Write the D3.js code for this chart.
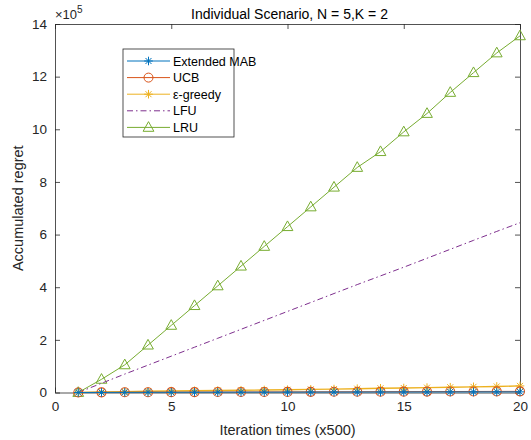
<!DOCTYPE html>
<html>
<head>
<meta charset="utf-8">
<script src="https://cdn.jsdelivr.net/npm/d3@7"></script>
<style>
  html, body { margin: 0; padding: 0; background: #fff; }
  svg { display: block; font-family: "Liberation Sans", Arial, Helvetica, sans-serif; }
</style>
</head>
<body>
<svg id="chart" width="531" height="440"></svg>
<script>
// ---- data (values in units of 1e5) ----
const iterations = [1,2,3,4,5,6,7,8,9,10,11,12,13,14,15,16,17,18,19,20];
const extendedMAB = [0,0.003,0.005,0.007,0.008,0.01,0.011,0.012,0.013,0.014,0.015,0.016,0.017,0.018,0.019,0.02,0.021,0.022,0.023,0.024];
const ucb = [0,0.005,0.008,0.011,0.013,0.015,0.017,0.019,0.021,0.023,0.025,0.027,0.029,0.031,0.033,0.035,0.037,0.039,0.041,0.043];
const epsGreedy = [0,0.02,0.03,0.045,0.055,0.065,0.075,0.085,0.095,0.105,0.12,0.13,0.145,0.16,0.17,0.185,0.2,0.215,0.23,0.25];
const lfu = [0,0.35,0.7,1.04,1.38,1.72,2.06,2.4,2.74,3.08,3.42,3.76,4.1,4.43,4.76,5.1,5.44,5.78,6.12,6.45];
const lru = [0,0.5,1.05,1.8,2.55,3.3,4.05,4.8,5.55,6.3,7.05,7.8,8.55,9.15,9.9,10.6,11.4,12.15,12.9,13.55];
const xTicks = [0,5,10,15,20];
const yTicks = [0,2,4,6,8,10,12,14];

const seriesNames = ["Extended MAB","UCB","\u03B5-greedy","LFU","LRU"];
const seriesColors = ["#0072BD","#D95319","#EDB120","#7E2F8E","#77AC30"];
const seriesMarkers = ["star","circle","star","none","triangle"];
const seriesDash = [null,null,null,"6,3,1.5,3",null];
const seriesValues = [extendedMAB, ucb, epsGreedy, lfu, lru];

const drawOrder = [4,3,2,1,0];

// ---- layout ----
const svg = d3.select("#chart");
const mLeft = 55, mRight = 520, mTop = 24, mBottom = 392.5;
const x = d3.scaleLinear().domain([0,20]).range([mLeft,mRight]);
const y = d3.scaleLinear().domain([0,14]).range([mBottom,mTop]);
const axisColor = "#262626";

const tickLen = 5;
const gx = svg.append("g").attr("transform",`translate(0,${mBottom})`)
  .call(d3.axisBottom(x).tickValues(xTicks).tickSizeInner(-tickLen).tickSizeOuter(0).tickPadding(9));
const gxTop = svg.append("g").attr("transform",`translate(0,${mTop})`)
  .call(d3.axisTop(x).tickValues(xTicks).tickSizeInner(-tickLen).tickSizeOuter(0).tickFormat(""));
const gy = svg.append("g").attr("transform",`translate(${mLeft},0)`)
  .call(d3.axisLeft(y).tickValues(yTicks).tickSizeInner(-tickLen).tickSizeOuter(0).tickPadding(8));
const gyR = svg.append("g").attr("transform",`translate(${mRight},0)`)
  .call(d3.axisRight(y).tickValues(yTicks).tickSizeInner(-tickLen).tickSizeOuter(0).tickFormat(""));
[gx,gxTop,gy,gyR].forEach(g=>{
  g.select(".domain").attr("stroke",axisColor).attr("stroke-width",0.8);
  g.selectAll(".tick line").attr("stroke",axisColor).attr("stroke-width",0.8);
  g.selectAll(".tick text").attr("fill","#262626").attr("font-size",13.5)
    .attr("font-family","'Liberation Sans', Arial, sans-serif");
});

const plot = svg.append("g");

function markerPath(type, size){
  const s = size;
  if(type==="star"){
    const a = s, b = s*0.7;
    return `M${-a},0L${a},0M0,${-a}L0,${a}M${-b},${-b}L${b},${b}M${-b},${b}L${b},${-b}`;
  }
  if(type==="triangle"){
    const h = s*1.6;
    return `M0,${-h*0.62}L${h*0.58},${h*0.42}L${-h*0.58},${h*0.42}Z`;
  }
  return "";
}

const line = d3.line().x((d,i)=>x(iterations[i])).y(d=>y(d));

drawOrder.forEach(k=>{
  const vals = seriesValues[k];
  const g = plot.append("g");
  g.append("path").datum(vals)
    .attr("d",line)
    .attr("fill","none")
    .attr("stroke",seriesColors[k])
    .attr("stroke-width", k===2 ? 1.4 : 1)
    .attr("stroke-dasharray",seriesDash[k]);
  const m = seriesMarkers[k];
  if(m==="circle"){
    g.selectAll("circle").data(vals).join("circle")
      .attr("cx",(d,i)=>x(iterations[i])).attr("cy",d=>y(d)).attr("r",4.5)
      .attr("fill","none").attr("stroke",seriesColors[k]).attr("stroke-width",1.1);
  } else if(m==="star" || m==="triangle"){
    g.selectAll("path.mk").data(vals).join("path").attr("class","mk")
      .attr("transform",(d,i)=>`translate(${x(iterations[i])},${y(d)})`)
      .attr("d",markerPath(m, m==="star"?4.3:5.8))
      .attr("fill","none").attr("stroke",seriesColors[k]).attr("stroke-width",1);
  }
});

// title
svg.append("text").attr("x",(mLeft+mRight)/2+2).attr("y",19).attr("text-anchor","middle")
  .attr("font-size",14).attr("fill","#000").text("Individual Scenario, N = 5,K = 2");
// exponent
const ex = svg.append("text").attr("x",mLeft).attr("y",19).attr("font-size",13).attr("fill","#262626");
ex.append("tspan").text("\u00D710");
ex.append("tspan").attr("dy",-6).attr("font-size",10).text("5");
// axis labels
svg.append("text").attr("x",(mLeft+mRight)/2).attr("y",435).attr("text-anchor","middle")
  .attr("font-size",14.5).attr("fill","#262626").text("Iteration times (x500)");
svg.append("text").attr("transform",`translate(23,${(mTop+mBottom)/2}) rotate(-90)`)
  .attr("text-anchor","middle").attr("font-size",14.5).attr("fill","#262626").text("Accumulated regret");

// legend
const lg = svg.append("g");
const lx = 123, ly = 49, lw = 111, lh = 88;
lg.append("rect").attr("x",lx).attr("y",ly).attr("width",lw).attr("height",lh)
  .attr("fill","#fff").attr("stroke",axisColor).attr("stroke-width",0.8);
seriesNames.forEach((name,k)=>{
  const yy = ly + 12 + k*16.6;
  lg.append("line").attr("x1",lx+4).attr("x2",lx+47).attr("y1",yy).attr("y2",yy)
    .attr("stroke",seriesColors[k]).attr("stroke-width",1).attr("stroke-dasharray",seriesDash[k]);
  const m = seriesMarkers[k];
  const cx = lx+25.5;
  if(m==="circle"){
    lg.append("circle").attr("cx",cx).attr("cy",yy).attr("r",4.5).attr("fill","none")
      .attr("stroke",seriesColors[k]);
  } else if(m!=="none"){
    lg.append("path").attr("transform",`translate(${cx},${yy})`)
      .attr("d",markerPath(m, m==="star"?4.3:5.8)).attr("fill","none").attr("stroke",seriesColors[k]);
  }
  lg.append("text").attr("x",lx+50).attr("y",yy+4.5).attr("font-size",12.5).attr("fill","#000").text(name);
});
</script>
</body>
</html>
